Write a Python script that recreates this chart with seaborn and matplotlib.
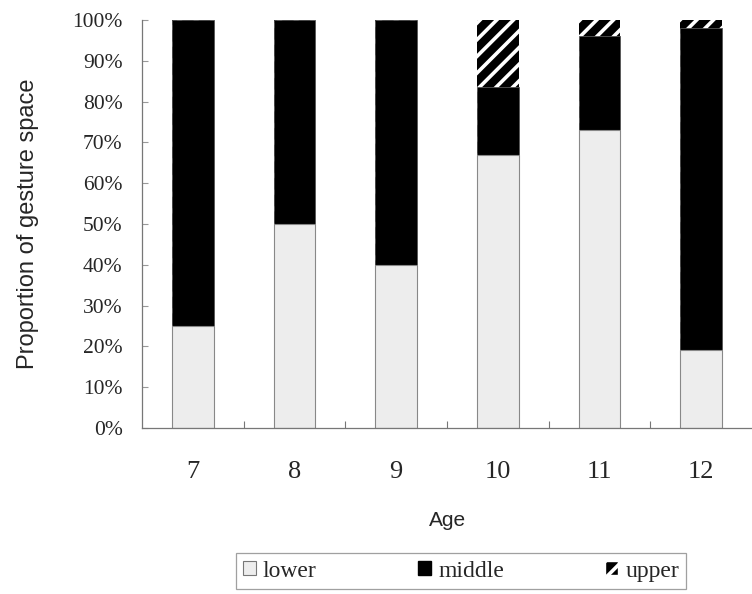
import numpy as np
import pandas as pd
import matplotlib
matplotlib.use("Agg")
import matplotlib.pyplot as plt
import matplotlib.patches as mpatches
import seaborn as sns

ages = ["7", "8", "9", "10", "11", "12"]
lower = [25, 50, 40, 67, 73, 19]
middle = [75, 50, 60, 16.5, 23, 79]
upper = [0, 0, 0, 16.5, 4, 2]
yticks = [0, 10, 20, 30, 40, 50, 60, 70, 80, 90, 100]

sns.set_style("white")
plt.rcParams["hatch.linewidth"] = 2.6

df = pd.DataFrame({"Age": ages, "lower": lower, "middle": middle, "upper": upper})
df["lm"] = df["lower"] + df["middle"]
df["total"] = df["lm"] + df["upper"]

fig = plt.figure(figsize=(7.52, 5.94), dpi=100)
ax = fig.add_axes([0.189, 0.2795, 0.811, 0.687])

# stacked bars drawn back to front
sns.barplot(data=df, x="Age", y="total", color="black", saturation=1, width=0.41,
            hatch="//", edgecolor="white", linewidth=0, ax=ax)
sns.barplot(data=df, x="Age", y="lm", color="black", saturation=1, width=0.41,
            edgecolor="#555555", linewidth=0.6, ax=ax)
sns.barplot(data=df, x="Age", y="lower", color="#ededed", saturation=1, width=0.41,
            edgecolor="#888888", linewidth=0.8, ax=ax)

ax.set_ylim(0, 100)
ax.set_xlim(-0.5, 5.5)
ax.set_yticks(yticks)
ax.set_yticklabels([f"{v}%" for v in yticks], family="Liberation Serif", fontsize=15.5)
ax.set_xticks(range(len(ages)))
ax.set_xticklabels(ages, family="Liberation Serif", fontsize=19)
ax.set_xticks(np.arange(0.5, len(ages) - 0.5, 1), minor=True)
ax.tick_params(axis="x", which="major", bottom=False, length=0, pad=24)
ax.tick_params(axis="x", which="minor", bottom=True, direction="in", length=5,
               color="#777777", width=0.8)
ax.tick_params(axis="y", left=True, direction="in", length=4, color="#999999",
               width=0.8, pad=14)

for s in ["top", "right"]:
    ax.spines[s].set_visible(False)
for s in ["left", "bottom"]:
    ax.spines[s].set_color("#777777")
    ax.spines[s].set_linewidth(0.9)

ax.set_ylabel("Proportion of gesture space", family="Liberation Sans", fontsize=17, labelpad=24)
ax.set_xlabel("Age", family="Liberation Sans", fontsize=15, labelpad=20)

handles = [
    mpatches.Patch(facecolor="#ededed", edgecolor="#777777", linewidth=0.8, label="lower"),
    mpatches.Patch(facecolor="black", edgecolor="black", label="middle"),
    mpatches.Patch(facecolor="black", edgecolor="white", hatch="//", label="upper"),
]
leg = fig.legend(handles=handles, loc="center", bbox_to_anchor=(0.613, 0.0387), ncol=3,
                 prop={"family": "Liberation Serif", "size": 17}, frameon=True, fancybox=False,
                 handlelength=0.55, handleheight=0.55, handletextpad=0.3, columnspacing=4.3,
                 borderpad=0.3, edgecolor="#888888")
leg.get_frame().set_linewidth(0.9)

fig.savefig("out.png", dpi=100)
